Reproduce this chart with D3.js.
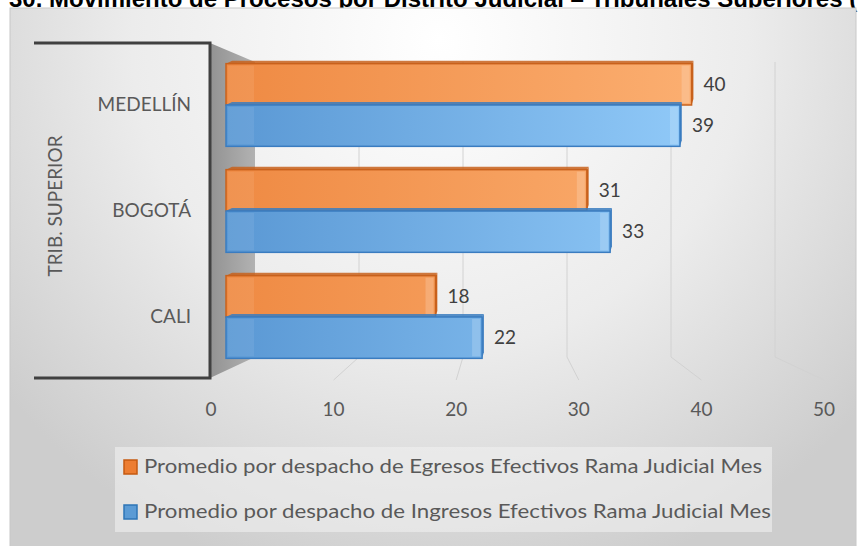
<!DOCTYPE html>
<html>
<head>
<meta charset="utf-8">
<script src="https://cdn.jsdelivr.net/npm/d3@7"></script>
<style>
  html, body { margin: 0; padding: 0; background: #fff; }
  svg { display: block; }
</style>
</head>
<body>
<svg id="chart" width="862" height="546"></svg>
<script>
'use strict';

// Data
var categories = ['MEDELLÍN', 'BOGOTÁ', 'CALI'];
var egresos = [40, 31, 18];   // orange
var ingresos = [39, 33, 22];  // blue
var xTicks = [0, 10, 20, 30, 40, 50];
var seriesNames = [
  'Promedio por despacho de Egresos Efectivos Rama Judicial Mes',
  'Promedio por despacho de Ingresos Efectivos Rama Judicial Mes'
];
var axisTitle = 'TRIB. SUPERIOR';
var chartTitle = '30. Movimiento de Procesos por Distrito Judicial – Tribunales Superiores (';

var svg = d3.select('#chart');
var defs = svg.append('defs');
var font = 'Lato, "Open Sans", sans-serif';

// title, cropped at the top like the source image
svg.append('text')
  .attr('x', 9).attr('y', 7)
  .attr('font-family', 'Arial, "Liberation Sans", sans-serif')
  .attr('font-weight', 'bold').attr('font-size', 24)
  .attr('fill', '#000')
  .text(chartTitle);

// background
var bg = defs.append('radialGradient').attr('id', 'bg')
  .attr('gradientUnits', 'userSpaceOnUse')
  .attr('cx', 440).attr('cy', 40).attr('r', 560);
bg.append('stop').attr('offset', 0).attr('stop-color', '#ffffff');
bg.append('stop').attr('offset', 0.55).attr('stop-color', '#ececec');
bg.append('stop').attr('offset', 1).attr('stop-color', '#cdcdcd');

svg.append('rect')
  .attr('x', 10).attr('y', 8).attr('width', 846).attr('height', 540)
  .attr('fill', 'url(#bg)').attr('stroke', '#c8c8c8');

// scales: front plane (labels), bars, back wall (gridlines)
var xFront = d3.scaleLinear().domain([0, 50]).range([211, 824]);
var xBar = d3.scaleLinear().domain([0, 50]).range([226, 808]);
var xBack = d3.scaleLinear().domain([0, 50]).range([255, 775]);
var y = d3.scaleBand().domain(categories).range([52, 370]).paddingInner(0.22).paddingOuter(0.11);

var wallTop = 62, wallBottom = 357, floorFront = 380;

// gridlines on back wall + floor
var grid = svg.append('g').attr('fill', 'none').attr('stroke', '#d2d2d2').attr('stroke-width', 1);
xTicks.slice(1).forEach(function(t) {
  grid.append('path').attr('d', 'M' + xBack(t) + ',' + wallTop + 'V' + wallBottom +
    'L' + xFront(t) + ',' + floorFront);
});

// side wall
var wall = defs.append('linearGradient').attr('id', 'wall').attr('x1', 0).attr('x2', 1);
wall.append('stop').attr('offset', 0).attr('stop-color', '#929292');
wall.append('stop').attr('offset', 1).attr('stop-color', '#b2b2b2');
svg.append('path')
  .attr('d', 'M210,43 L255,' + wallTop + ' L255,' + wallBottom + ' L210,378 Z')
  .attr('fill', 'url(#wall)');

// bar gradients
function barGrad(id, c0, c1) {
  var g = defs.append('linearGradient').attr('id', id)
    .attr('gradientUnits', 'userSpaceOnUse')
    .attr('x1', xBar(0)).attr('x2', xBar(40)).attr('y1', 0).attr('y2', 0);
  g.append('stop').attr('offset', 0).attr('stop-color', c0);
  g.append('stop').attr('offset', 1).attr('stop-color', c1);
}
barGrad('gOrange', '#ef8a43', '#fbae70');
barGrad('gBlue', '#5a98d4', '#90c9f8');

var series = [
  { name: seriesNames[0], values: egresos, fill: 'url(#gOrange)', edge: '#c8611c', swatch: '#ed7d31', swEdge: '#c55a11' },
  { name: seriesNames[1], values: ingresos, fill: 'url(#gBlue)', edge: '#3a7cc0', swatch: '#5b9bd5', swEdge: '#2e75b6' }
];

var barH = y.bandwidth() / 2;
var depth = 6;

series.forEach(function(s, si) {
  var g = svg.append('g');
  categories.forEach(function(c, i) {
    var v = s.values[i];
    var y0 = y(c) + si * barH;
    var x0 = xBar(0), x1 = xBar(v);
    // top face
    g.append('path')
      .attr('d', 'M' + x0 + ',' + y0 + 'L' + (x0 + depth) + ',' + (y0 - depth * 0.5) +
        'H' + (x1 + depth * 0.3) + 'L' + x1 + ',' + y0 + 'Z')
      .attr('fill', s.edge).attr('opacity', 0.85);
    // side face
    g.append('path')
      .attr('d', 'M' + x1 + ',' + y0 + 'L' + (x1 + depth * 0.3) + ',' + (y0 - depth * 0.5) +
        'V' + (y0 + barH - depth) + 'L' + x1 + ',' + (y0 + barH) + 'Z')
      .attr('fill', s.edge);
    // front face
    g.append('rect')
      .attr('x', x0).attr('y', y0).attr('width', x1 - x0).attr('height', barH)
      .attr('fill', s.fill).attr('stroke', s.edge).attr('stroke-width', 1.5);
    // bevel highlights
    g.append('rect')
      .attr('x', x1 - 10).attr('y', y0 + 2).attr('width', 8).attr('height', barH - 4)
      .attr('fill', '#fff').attr('opacity', 0.18);
    g.append('rect')
      .attr('x', x0 + 2).attr('y', y0 + 2).attr('width', 26).attr('height', barH - 4)
      .attr('fill', '#fff').attr('opacity', 0.08);
    // value label
    g.append('text')
      .attr('x', x1 + 12).attr('y', y0 + barH / 2 + 2)
      .attr('dominant-baseline', 'middle')
      .attr('font-family', font).attr('font-size', 19)
      .attr('fill', '#404040')
      .text(v);
  });
});

// axis frame
svg.append('path')
  .attr('d', 'M34,43 H210 V378 H34')
  .attr('fill', 'none').attr('stroke', '#404040').attr('stroke-width', 3);

// category labels
svg.append('g').selectAll('text')
  .data(categories)
  .enter().append('text')
  .attr('x', 191)
  .attr('y', function(d) { return y(d) + y.bandwidth() / 2 + 1; })
  .attr('text-anchor', 'end').attr('dominant-baseline', 'middle')
  .attr('font-family', font).attr('font-size', 19).attr('fill', '#595959')
  .text(function(d) { return d; });

svg.append('text')
  .attr('transform', 'translate(57,206) rotate(-90)')
  .attr('text-anchor', 'middle').attr('dominant-baseline', 'middle')
  .attr('font-family', font).attr('font-size', 19).attr('fill', '#595959')
  .text(axisTitle);

// x tick labels
svg.append('g').selectAll('text')
  .data(xTicks)
  .enter().append('text')
  .attr('x', function(d) { return xFront(d); })
  .attr('y', 411)
  .attr('text-anchor', 'middle').attr('dominant-baseline', 'middle')
  .attr('font-family', font).attr('font-size', 19).attr('fill', '#595959')
  .text(function(d) { return d; });

// legend
var legend = svg.append('g');
legend.append('rect')
  .attr('x', 115).attr('y', 447).attr('width', 657).attr('height', 85)
  .attr('fill', '#f0f0f0').attr('opacity', 0.6);
series.forEach(function(s, i) {
  var ly = 467 + i * 45;
  legend.append('rect')
    .attr('x', 124).attr('y', ly - 7).attr('width', 13).attr('height', 14)
    .attr('fill', s.swatch).attr('stroke', s.swEdge).attr('stroke-width', 1.5);
  legend.append('text')
    .attr('x', 144).attr('y', ly + 1)
    .attr('dominant-baseline', 'middle')
    .attr('font-family', font).attr('font-size', 20).attr('fill', '#595959')
    .attr('textLength', i === 0 ? 618 : 627).attr('lengthAdjust', 'spacingAndGlyphs')
    .text(s.name);
});
</script>
</body>
</html>
